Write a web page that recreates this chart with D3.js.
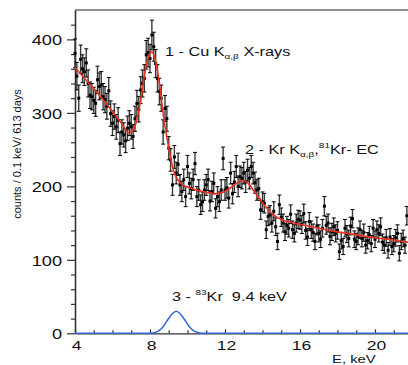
<!DOCTYPE html>
<html>
<head>
<meta charset="utf-8">
<script src="https://cdn.jsdelivr.net/npm/d3@7"></script>
<style>
  html, body { margin: 0; padding: 0; background: #fff; }
  svg { display: block; font-family: "Liberation Sans", Arial, sans-serif; }
</style>
</head>
<body>
<svg id="chart" width="408" height="365"></svg>
<script>
// ---- data ----
const binStart = 4.0;      // keV, first bin
const binWidth = 0.1;      // keV per bin
const counts = [
  381, 350, 320, 373, 360, 356, 368, 340, 324, 322,
  317, 313, 345, 336, 338, 322, 318, 309, 330, 299,
  286, 295, 281, 290, 258, 274, 270, 262, 279, 286,
  281, 268, 292, 313, 305, 331, 340, 347, 379, 382,
  374, 406, 390, 367, 347, 329, 320, 274, 306, 292,
  252, 236, 202, 240, 218, 230, 202, 193, 209, 186,
  227, 204, 197, 209, 231, 186, 195, 175, 179, 195,
  202, 209, 180, 193, 204, 170, 186, 179, 195, 238,
  195, 198, 184, 218, 190, 206, 227, 200, 213, 211,
  218, 206, 222, 211, 227, 218, 205, 195, 197, 168,
  179, 177, 141, 159, 161, 150, 166, 145, 125, 175,
  158, 150, 138, 147, 143, 162, 141, 136, 150, 155,
  154, 148, 163, 140, 131, 152, 141, 137, 125, 146,
  136, 128, 143, 173, 147, 150, 132, 138, 145, 136,
  140, 111, 126, 118, 143, 135, 129, 146, 156, 128,
  125, 132, 141, 129, 137, 120, 126, 134, 122, 143,
  128, 141, 136, 145, 124, 120, 130, 113, 131, 118,
  122, 130, 136, 109, 125, 129, 120, 160
];

// fit curve (red)
const fitE = [4.0, 4.5, 5.0, 5.5, 6.0, 6.5, 6.9, 7.2, 7.5, 7.75, 8.0, 8.1, 8.25, 8.5, 8.75, 9.0, 9.25, 9.5, 9.75, 10.0, 10.5, 11.0, 11.5, 12.0, 12.5, 12.9, 13.25, 13.5, 14.0, 14.5, 15.0, 15.5, 16, 17, 18, 19, 20, 21, 22];
const fitCounts = [362, 347, 333, 318, 302, 285, 273, 282, 317, 358, 381, 383, 375, 340, 290, 252, 222, 208, 202, 199, 195, 192, 190, 193, 202, 208, 204, 195, 178, 163, 155, 151, 148, 143, 138, 134, 130, 127, 123];

// 83Kr 9.4 keV line (blue)
const krE = [4, 7.5, 8.0, 8.3, 8.5, 8.7, 8.9, 9.1, 9.25, 9.4, 9.55, 9.7, 9.9, 10.1, 10.3, 10.5, 10.8, 11.3, 22];
const krCounts = [0, 0, 0.2, 1.5, 4, 9, 16.5, 24, 28, 30, 28, 24, 16.5, 9, 4, 1.5, 0.2, 0, 0];

const xMajorTicks = [4, 8, 12, 16, 20];
const xMinorTicks = [5, 6, 7, 9, 10, 11, 13, 14, 15, 17, 18, 19, 21];
const yMajorTicks = [0, 100, 200, 300, 400];
const yMinorTicks = [20, 40, 60, 80, 120, 140, 160, 180, 220, 240, 260, 280, 320, 340, 360, 380, 420];

const yTitle = "counts / 0.1 keV/ 613 days";
const xTitle = "E, keV";

// ---- drawing ----
const svg = d3.select("#chart");
const x = d3.scaleLinear().domain([4, 22]).range([75, 412.5]);
const y = d3.scaleLinear().domain([0, 440]).range([333.3, 10]);
const SX = 1.3; // horizontal stretch of glyphs in the original

// frame top
svg.append("line").attr("x1", x(4)).attr("x2", 408).attr("y1", y(440)).attr("y2", y(440))
  .attr("stroke", "#222").attr("stroke-width", 1.2);

// y axis minor
svg.append("g").attr("transform", `translate(${x(4)},0)`)
  .call(d3.axisLeft(y).tickValues(yMinorTicks).tickSize(4).tickSizeOuter(0).tickFormat(""))
  .call(g => g.select(".domain").remove())
  .call(g => g.selectAll("line").attr("stroke", "#333").attr("stroke-width", 1.2));
// y axis major
const yAx = svg.append("g").attr("transform", `translate(${x(4)},0)`)
  .call(d3.axisLeft(y).tickValues(yMajorTicks).tickSize(8).tickSizeOuter(0));
yAx.select(".domain").attr("stroke", "#333").attr("stroke-width", 1.6);
yAx.selectAll("line").attr("stroke", "#333").attr("stroke-width", 1.2);
yAx.selectAll("text").attr("x", null).attr("dy", null)
  .attr("transform", `translate(-13,5.3) scale(${SX},1)`)
  .attr("text-anchor", "end").attr("font-size", 14).attr("fill", "#111")
  .attr("font-family", "Liberation Sans, Arial, sans-serif");

// x axis minor
svg.append("g").attr("transform", `translate(0,${y(0)})`)
  .call(d3.axisBottom(x).tickValues(xMinorTicks).tickSize(-3).tickSizeOuter(0).tickFormat(""))
  .call(g => g.select(".domain").remove())
  .call(g => g.selectAll("line").attr("stroke", "#333").attr("stroke-width", 1.2));
const xAx = svg.append("g").attr("transform", `translate(0,${y(0)})`)
  .call(d3.axisBottom(x).tickValues(xMajorTicks).tickSize(-4).tickSizeOuter(0));
xAx.select(".domain").attr("stroke", "#333").attr("stroke-width", 1.2);
xAx.selectAll("line").attr("stroke", "#333").attr("stroke-width", 1.2);
xAx.selectAll("text").attr("y", null).attr("dy", null)
  .attr("transform", `translate(1,17) scale(${SX},1)`)
  .attr("text-anchor", "middle").attr("font-size", 13.5).attr("fill", "#111")
  .attr("font-family", "Liberation Sans, Arial, sans-serif");

// axis titles
svg.append("text").attr("transform", `translate(21,154) rotate(-90)`)
  .attr("text-anchor", "middle").attr("font-size", 11).attr("fill", "#111").text(yTitle);
svg.append("text").attr("transform", `translate(332,363.2) scale(1.35,1)`)
  .attr("font-size", 11).attr("fill", "#111").text(xTitle);

// data: error bars & points
const pts = counts.map((c, i) => ({ e: binStart + binWidth * i, c, err: Math.sqrt(c) }));
const eb = svg.append("g");
eb.selectAll("line.bar").data(pts).join("line").attr("class", "bar")
  .attr("x1", d => x(d.e)).attr("x2", d => x(d.e))
  .attr("y1", d => y(d.c - d.err)).attr("y2", d => y(d.c + d.err))
  .attr("stroke", "#3a3a3a").attr("stroke-width", 1.4);
eb.selectAll("line.capT").data(pts).join("line").attr("class", "capT")
  .attr("x1", d => x(d.e) - 2).attr("x2", d => x(d.e) + 2)
  .attr("y1", d => y(d.c + d.err)).attr("y2", d => y(d.c + d.err))
  .attr("stroke", "#000").attr("stroke-width", 1);
eb.selectAll("line.capB").data(pts).join("line").attr("class", "capB")
  .attr("x1", d => x(d.e) - 2).attr("x2", d => x(d.e) + 2)
  .attr("y1", d => y(d.c - d.err)).attr("y2", d => y(d.c - d.err))
  .attr("stroke", "#000").attr("stroke-width", 1);
eb.selectAll("rect").data(pts).join("rect")
  .attr("x", d => x(d.e) - 1.5).attr("y", d => y(d.c) - 1.5)
  .attr("width", 3).attr("height", 3).attr("fill", "#000");

// fit curve
const fitData = fitE.map((e, i) => [e, fitCounts[i]]);
svg.append("path").datum(fitData)
  .attr("d", d3.line().x(d => x(d[0])).y(d => y(d[1])).curve(d3.curveMonotoneX))
  .attr("fill", "none").attr("stroke", "#ee3322").attr("stroke-width", 1.6);

// 83Kr line
const krData = krE.map((e, i) => [e, krCounts[i]]);
svg.append("path").datum(krData)
  .attr("d", d3.line().x(d => x(d[0])).y(d => y(d[1])).curve(d3.curveMonotoneX))
  .attr("fill", "none").attr("stroke", "#3366dd").attr("stroke-width", 1.5);

// annotations
function annot(xp, yp, parts) {
  const t = svg.append("text").attr("transform", `translate(${xp},${yp}) scale(1.25,1)`)
    .attr("font-size", 13).attr("fill", "#111").attr("xml:space", "preserve");
  parts.forEach(p => {
    const ts = t.append("tspan").text(p.t);
    if (p.sub) ts.attr("font-size", 8).attr("dy", 2.5);
    else if (p.sup) ts.attr("font-size", 8).attr("dy", -6);
    if (p.back) ts.attr("dy", p.back);
  });
}
annot(165, 56, [{ t: "1 - Cu K" }, { t: "\u03b1,\u03b2", sub: true }, { t: " X-rays", back: -2.5 }]);
annot(245, 154, [{ t: "2 - Kr K" }, { t: "\u03b1,\u03b2", sub: true }, { t: ",", back: -2.5 }, { t: "81", sup: true }, { t: "Kr- EC", back: 6 }]);
annot(172, 300.5, [{ t: "3 - " }, { t: "83", sup: true }, { t: "Kr\u00a0 9.4 keV", back: 6 }]);
</script>
</body>
</html>
